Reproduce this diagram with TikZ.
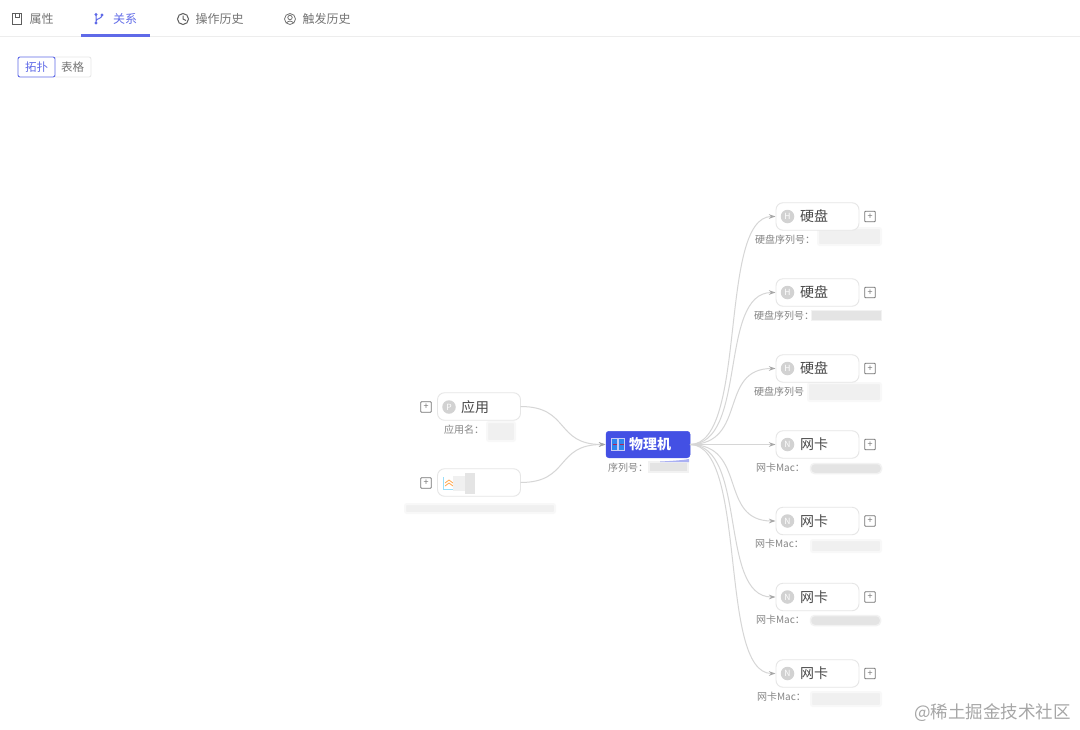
\documentclass[tikz,border=0pt]{standalone}
\usepackage{fontspec}
\setmainfont{Noto Sans CJK SC}
\usetikzlibrary{arrows.meta}
\definecolor{accent}{HTML}{4350E4}
\definecolor{tabgray}{HTML}{747474}
\definecolor{edgegray}{HTML}{D6D6D6}
\definecolor{boxline}{HTML}{E6E6E6}
\definecolor{iconback}{HTML}{D2D2D2}
\definecolor{subtext}{HTML}{858585}
\definecolor{nodetext}{HTML}{4A4A4A}
\definecolor{blurgray}{HTML}{E4E4E4}
\definecolor{blurlight}{HTML}{F0F0F0}
\definecolor{tipgray}{HTML}{A8A8A8}
\tikzset{
  every node/.style={inner sep=0pt,outer sep=0pt},
  tab/.style={font=\fontsize{12}{13}\selectfont,text=tabgray,anchor=west},
  card/.style={draw=boxline,line width=0.9pt,fill=white,rounded corners=7pt,minimum width=83pt,minimum height=27.5pt},
  cardtext/.style={font=\fontsize{14}{15}\selectfont,text=nodetext,anchor=west},
  badge/.style={circle,fill=iconback,minimum size=13.5pt,text=white,font=\fontsize{8.5}{9}\selectfont},
  plusbox/.style={draw=tabgray,line width=0.9pt,minimum size=10.5pt,font=\fontsize{9}{9}\selectfont,text=tabgray,rounded corners=0.8pt},
  sub/.style={font=\fontsize{10}{11}\selectfont,text=subtext,anchor=west},
  blur/.style={fill=blurgray,draw=blurgray!50!white,line width=1.5pt},
  blurl/.style={fill=blurlight,draw=blurlight!50!white,line width=2pt,rounded corners=2pt},
  link/.style={draw=edgegray,line width=1pt,-{Stealth[length=6.5pt,width=4.5pt,color=tipgray]},shorten >=0.5pt},
}
\begin{document}
\begin{tikzpicture}[x=1pt,y=-1pt]
\useasboundingbox (0,0) rectangle (1080,729);
\fill[white] (0,0) rectangle (1080,729);
% tab bar
\draw[draw=black!7,line width=0.8pt] (0,36.5) -- (1080,36.5);
\fill[accent!85!white] (81,34.4) rectangle (150,36.6);
% tab icons
\draw[tabgray!80!black,line width=1pt] (12.5,13.5) rectangle (21.5,24) (15,13.5) -- (15,17.5) -- (19.5,17.5) -- (19.5,13.5);
\draw[accent!85!white,line width=1pt] (96,15) -- (96,23) (96,21) .. controls (96,18.5) and (102,19) .. (102,15);
\fill[accent!85!white] (96,14.5) circle (1.6) (96,23) circle (1.6) (102,15) circle (1.6);
\draw[tabgray!80!black,line width=1pt] (183,19) circle (5.5) (183,15.5) -- (183,19) -- (186,20.5);
\draw[tabgray,line width=0.8pt] (290,19) circle (5.5) (290,17.5) circle (2.2) (286.5,23) .. controls (288,20.5) and (292,20.5) .. (293.5,23);
\node[tab] (t1) at (29.5,19) {属性};
\node[tab,text=accent!85!white] (t2) at (113,19) {关系};
\node[tab] (t3) at (195.5,19) {操作历史};
\node[tab] (t4) at (302.5,19) {触发历史};
% toggle
\draw[draw=boxline,fill=white,rounded corners=2pt,line width=0.8pt] (54,57) rectangle (91,77);
\draw[draw=accent!85!white,fill=white,rounded corners=2pt,line width=0.9pt] (18,57) rectangle (55,77);
\node[font=\fontsize{11.5}{12}\selectfont,text=accent!85!white] (s1) at (36.5,67) {拓扑};
\node[font=\fontsize{11.5}{12}\selectfont,text=tabgray] (s2) at (72.5,67) {表格};
% blurred values
\path[blurl] (487,422) rectangle (515,441);
\path[blurl] (405,504) rectangle (555,513);
\path[blur] (649,462) rectangle (688,472);
\fill[accent!45!white] (660,461.5) .. controls (670,461) and (680,460.5) .. (689,459) -- (689,462) -- (660,462) -- cycle;
\path[blurl] (818,228) rectangle (881,245);
\path[blur] (811.5,310.5) rectangle (881.5,320.5);
\path[blurl] (808,383) rectangle (881,401);
\path[blur,rounded corners=4pt] (810.5,463.5) rectangle (881.5,473.5);
\path[blurl] (811,540) rectangle (881,552);
\path[blur,rounded corners=4pt] (810.5,615.5) rectangle (880.5,625.5);
\path[blurl] (811,692) rectangle (881,706);
% cards
\node[card] (app) at (479,406.5) {};
\node[card] (svc) at (479,482.5) {};
\node[draw=accent,fill=accent,rounded corners=3pt,minimum width=84pt,minimum height=26.5pt,line width=0.5pt] (host) at (648,444.5) {};
\node[card] (d1) at (817.5,216.5) {};
\node[card] (d2) at (817.5,292.5) {};
\node[card] (d3) at (817.5,368.5) {};
\node[card] (n1) at (817.5,444.5) {};
\node[card] (n2) at (817.5,521) {};
\node[card] (n3) at (817.5,597) {};
\node[card] (n4) at (817.5,673.5) {};
% host contents
\draw[draw=white!70!accent,fill=accent!70!cyan,line width=0.8pt] (611.5,438.5) rectangle (617.5,450.5) (618.5,438.5) rectangle (624.5,450.5);
\draw[red!60!accent,line width=0.8pt] (612.5,444.5) -- (616.5,444.5) (619.5,444.5) -- (623.5,444.5);
\node[anchor=west,font=\fontsize{14}{15}\selectfont\bfseries,text=white] (hostt) at (629,444.5) {物理机};
\node[sub] (hosts) at (608,468) {序列号：};
% left cards contents
\node[badge] (appb) at (449,407) {P};
\node[cardtext] (appt) at (461,407) {应用};
\node[sub] (apps) at (444,430) {应用名：};
\node[plusbox] (appp) at (426,407) {+};
\node[plusbox] (svcp) at (426,483) {+};
\draw[cyan!40,line width=0.8pt] (443.5,477) -- (443.5,489) -- (455,489);
\draw[orange!70,line width=0.8pt] (445,483) -- (449,480) -- (453,483) (445,486) -- (449,483) -- (453,486);
\fill[blurgray] (465,473) rectangle (475,494);
\fill[blurlight] (453,476) rectangle (465,491);
% right card contents
\foreach \nm/\yy/\ll/\tx/\sx/\st in {
  d1/216.5/H/硬盘/755/硬盘序列号：,
  d2/292.5/H/硬盘/754/硬盘序列号：,
  d3/368.5/H/硬盘/754/硬盘序列号,
  n1/444.5/N/网卡/756/网卡Mac：,
  n2/521/N/网卡/755/网卡Mac：,
  n3/597/N/网卡/756/网卡Mac：,
  n4/673.5/N/网卡/757/网卡Mac：}{
  \node[badge] (\nm b) at (787.5,\yy) {\ll};
  \node[cardtext] (\nm t) at (800,\yy) {\tx};
  \node[plusbox] (\nm p) at (870,\yy) {+};
  \node[sub] (\nm s) at (\sx,\yy+23) {\st};
}
% connectors
\foreach \nm in {app,svc}{
  \draw[link] (\nm.east) .. controls (570,0 |- \nm.east) and (555,0 |- host.west) .. (host.west);
}
\foreach \nm in {d1,d2,d3,n1,n2,n3,n4}{
  \draw[link] (host.east) .. controls (748,0 |- host.east) and (718,0 |- \nm.west) .. (\nm.west);
}
% watermark
\node[anchor=west,font=\fontsize{17.5}{19}\selectfont,text=black!35] (wm) at (914,712.5) {@稀土掘金技术社区};
\end{tikzpicture}
\end{document}
